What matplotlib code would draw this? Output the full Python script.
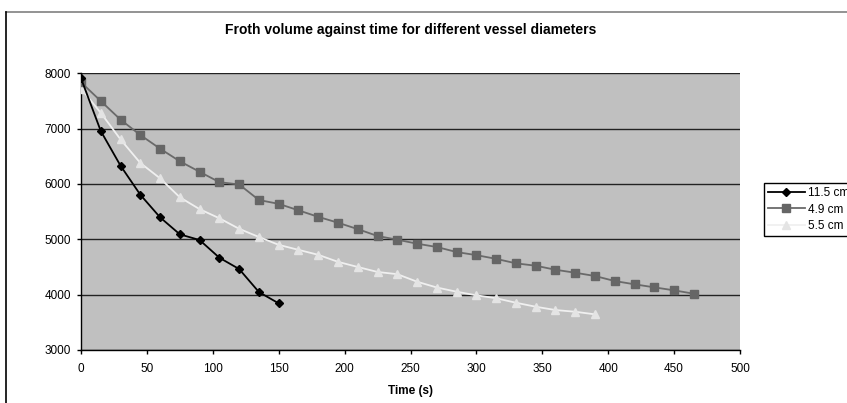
import matplotlib.pyplot as plt
from matplotlib.lines import Line2D

plt.rcParams['font.family'] = ['Liberation Sans', 'DejaVu Sans']

# froth volume readings, one every 15 s
time_115 = [0, 15, 30, 45, 60, 75, 90, 105, 120, 135, 150]
vol_115 = [7910, 6957, 6330, 5806, 5397, 5090, 4987, 4667, 4463, 4047, 3843]

time_49 = list(range(0, 466, 15))
vol_49 = [7837, 7499, 7162, 6885, 6638, 6410, 6220, 6033, 5991, 5710, 5641,
          5524, 5406, 5300, 5184, 5060, 4993, 4921, 4861, 4770, 4714, 4647,
          4566, 4523, 4450, 4396, 4337, 4246, 4187, 4132, 4078, 4017]

time_55 = list(range(0, 391, 15))
vol_55 = [7725, 7285, 6805, 6380, 6102, 5759, 5545, 5380, 5190, 5042, 4900,
          4810, 4720, 4593, 4500, 4410, 4370, 4234, 4129, 4053, 3988, 3935,
          3854, 3782, 3722, 3691, 3644]

labels = ['11.5 cm', '4.9 cm', '5.5 cm']

fig = plt.figure(figsize=(8.47, 4.03), dpi=100)
ax = fig.add_axes([81 / 847, 1 - 350 / 403, 659 / 847, 276.7 / 403])
ax.set_facecolor('#C0C0C0')

ax.plot(time_115, vol_115, color='black', lw=1.3, marker='D', ms=4.5,
        mfc='black', mec='black', label=labels[0], zorder=5)
ax.plot(time_49, vol_49, color='#6A6A6A', lw=1.3, marker='s', ms=5.2,
        mfc='#666666', mec='#666666', label=labels[1], zorder=4)
ax.plot(time_55, vol_55, color='#F0F0F0', lw=1.3, marker='^', ms=5.8,
        mfc='#E4E4E4', mec='#E4E4E4', label=labels[2], zorder=3)

ax.set_xlim(0, 500)
ax.set_ylim(3000, 8000)
ax.set_xticks(range(0, 501, 50))
ax.set_yticks(range(3000, 8001, 1000))
ax.yaxis.grid(True, color='#222222', lw=1)
ax.set_axisbelow(True)
for s in ['top', 'right']:
    ax.spines[s].set_visible(False)
for s in ['left', 'bottom']:
    ax.spines[s].set_color('black')
    ax.spines[s].set_linewidth(1)
ax.tick_params(axis='both', direction='out', length=3, width=1,
               labelsize=8.5, colors='black', pad=4)
ax.tick_params(axis='x', pad=6)

fig.text(0.485, 1 - 30 / 403, 'Froth volume against time for different vessel diameters',
         ha='center', va='center', fontsize=10, fontweight='bold')
fig.text(0.485, 1 - 391 / 403, 'Time (s)', ha='center', va='center',
         fontsize=8.5, fontweight='bold')

leg = fig.legend(loc='upper left', bbox_to_anchor=(764 / 847, 1 - 182.7 / 403),
                 borderaxespad=0, fontsize=8.5, handlelength=3.1,
                 handletextpad=0.3, labelspacing=0.4, borderpad=0.35,
                 fancybox=False, framealpha=1, edgecolor='black')
leg.get_frame().set_linewidth(1)

# chart border, running off the right and bottom edges
fx, fy = 6 / 847, 1 - 12 / 403
fig.add_artist(Line2D([fx, 1.0], [fy, fy], transform=fig.transFigure,
                      color='#808080', lw=1.2))
fig.add_artist(Line2D([fx, fx], [fy, 0.0], transform=fig.transFigure,
                      color='black', lw=1.2))

fig.savefig('out.png', dpi=100)
